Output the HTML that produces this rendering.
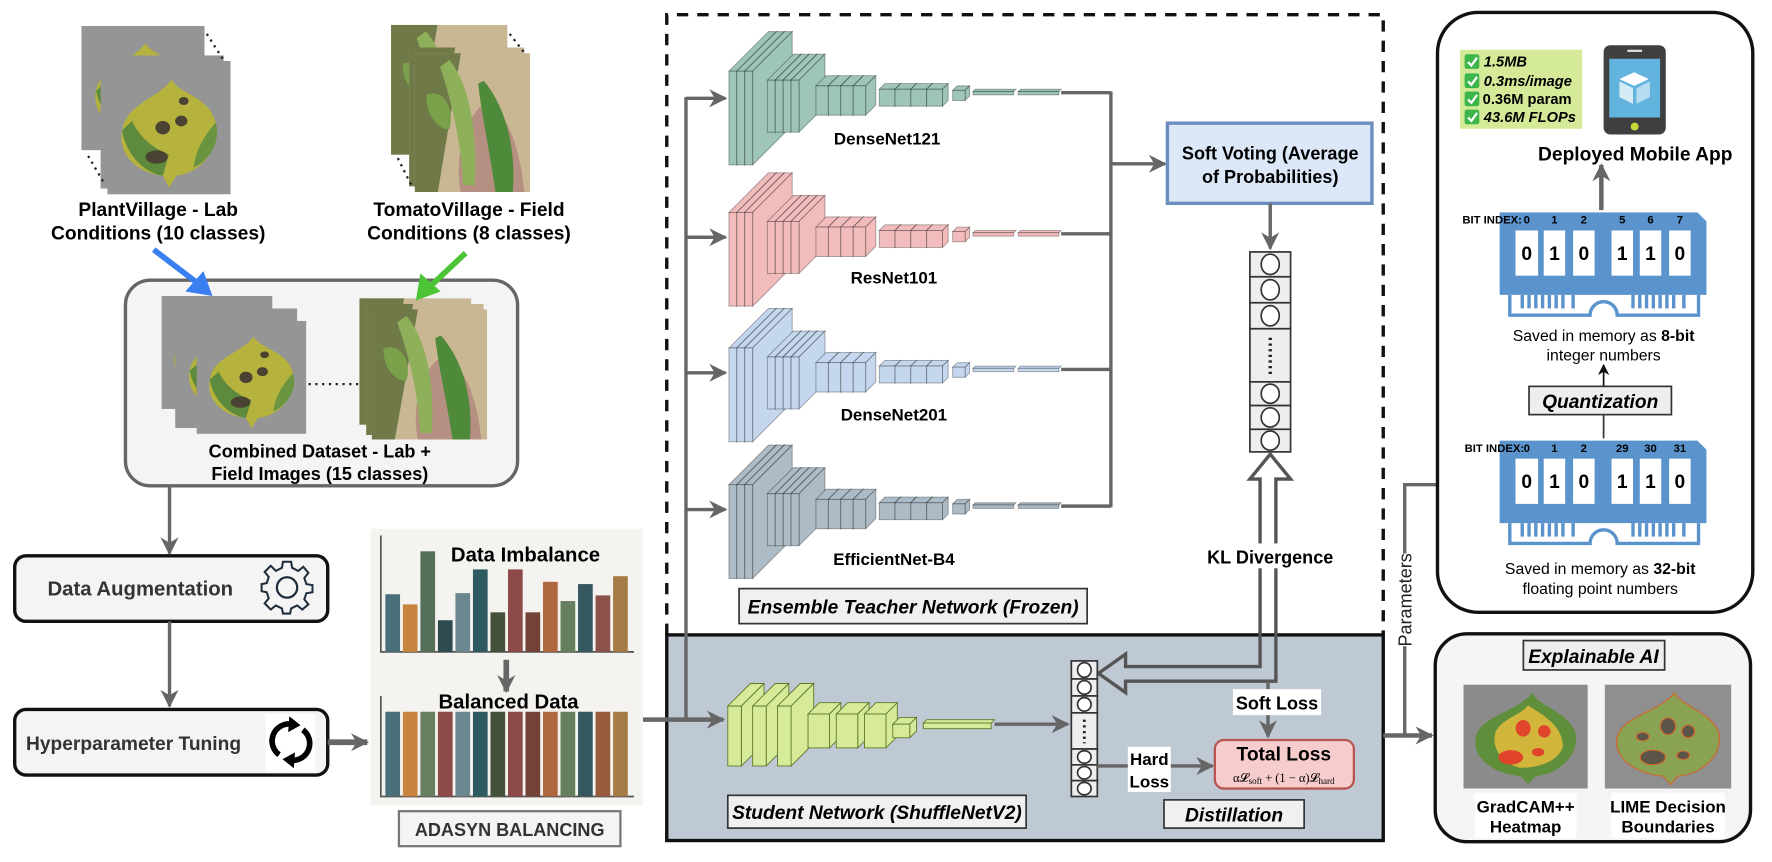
<!DOCTYPE html>
<html><head><meta charset="utf-8"><style>
html,body{margin:0;padding:0;background:#fff;}
svg{display:block;font-family:"Liberation Sans",Arial,sans-serif;}
.b{font-weight:bold;}
.bi{font-weight:bold;font-style:italic;}
</style></head><body>
<svg width="1772" height="862" viewBox="0 0 1568 763" preserveAspectRatio="none" xmlns="http://www.w3.org/2000/svg">
<defs>
<marker id="ah" viewBox="0 0 10 10" refX="9" refY="5" markerWidth="16" markerHeight="16" markerUnits="userSpaceOnUse" orient="auto"><path d="M0,0 L10,5 L0,10 L3,5z" fill="#666"/></marker>
<marker id="ahk" viewBox="0 0 10 10" refX="9" refY="5" markerWidth="10" markerHeight="10" markerUnits="userSpaceOnUse" orient="auto"><path d="M0,0 L10,5 L0,10 L3,5z" fill="#111"/></marker>
<symbol id="lab" viewBox="0 0 100 100" preserveAspectRatio="none">
<rect width="100" height="100" fill="#8e8e8e"/><rect width="100" height="100" fill="#a0a0a0" opacity=".4"/>
<path d="M52,14 C60,26 82,26 88,46 C92,66 76,84 56,86 L50,95 L45,86 C24,84 8,70 12,52 C15,32 42,28 52,14z" fill="#b5b23e"/>
<path d="M12,52 C15,70 30,84 45,86 L50,70 C35,65 25,55 20,45z" fill="#5d8a3c"/>
<path d="M88,46 C92,60 84,74 70,80 C72,65 80,55 88,46z" fill="#6b9440"/>
<ellipse cx="45" cy="50" rx="6" ry="5" fill="#4a4334"/><ellipse cx="60" cy="45" rx="5" ry="4" fill="#4a4334"/><ellipse cx="40" cy="72" rx="9" ry="5" fill="#4a4334"/><ellipse cx="62" cy="30" rx="4" ry="3" fill="#4a4334"/>
</symbol>
<symbol id="field" viewBox="0 0 100 100" preserveAspectRatio="none">
<rect width="100" height="100" fill="#c9b794"/>
<path d="M0,0 H40 L20,100 H0z" fill="#6f7a48"/>
<path d="M55,40 C70,30 90,55 95,100 H40 C35,80 40,55 55,40z" fill="#b58f82"/>
<path d="M30,5 C45,20 55,50 52,95 L42,95 C40,60 30,30 22,10z" fill="#8fb05a"/>
<path d="M60,20 C80,40 88,70 85,100 L70,100 C65,70 58,45 55,22z" fill="#4f8a3a"/>
<path d="M10,30 C25,25 35,40 30,55 C20,55 10,45 10,30z" fill="#7aa04a"/>
</symbol>
<symbol id="grad" viewBox="0 0 100 100" preserveAspectRatio="none">
<rect width="100" height="100" fill="#8b8b8b"/>
<path d="M55,8 C62,22 84,26 90,46 C94,66 78,86 58,88 L52,96 L46,88 C24,86 6,70 10,50 C14,30 44,26 55,8z" fill="#5f8f3a"/>
<path d="M52,20 C65,30 80,40 80,60 C75,75 60,80 45,80 C30,75 22,60 26,45 C32,32 45,30 52,20z" fill="#d2b63c"/>
<ellipse cx="48" cy="42" rx="6" ry="8" fill="#e0452c"/><ellipse cx="65" cy="45" rx="5" ry="6" fill="#e0452c"/><ellipse cx="38" cy="70" rx="10" ry="7" fill="#e0452c"/><ellipse cx="60" cy="65" rx="5" ry="4" fill="#e0452c"/>
</symbol>
<symbol id="lime" viewBox="0 0 100 100" preserveAspectRatio="none">
<rect width="100" height="100" fill="#8f8f8f"/>
<path d="M55,8 C62,22 84,26 90,46 C94,66 78,86 58,88 L52,96 L46,88 C24,86 6,70 10,50 C14,30 44,26 55,8z" fill="#8aa254" stroke="#d2662c" stroke-width="1"/>
<g fill="#5a5548" stroke="#d2662c" stroke-width="1"><ellipse cx="50" cy="40" rx="6" ry="8"/><ellipse cx="66" cy="45" rx="5" ry="6"/><ellipse cx="38" cy="70" rx="10" ry="7"/><ellipse cx="62" cy="68" rx="5" ry="4"/><ellipse cx="30" cy="50" rx="5" ry="4"/></g>
</symbol>
<g id="tnet" stroke="#0005" stroke-width="0.8" fill="currentColor">
<polygon points="645,63 680,28 687,28 652,63"/><polygon points="652,63 687,28 687,111 652,146"/><rect x="645" y="63" width="7" height="83"/>
<polygon points="652,63 687,28 694,28 659,63"/><polygon points="659,63 694,28 694,111 659,146"/><rect x="652" y="63" width="7" height="83"/>
<polygon points="659,63 694,28 701,28 666,63"/><polygon points="666,63 701,28 701,111 666,146"/><rect x="659" y="63" width="7" height="83"/>
<polygon points="679,71 702,48 709,48 686,71"/><polygon points="686,71 709,48 709,94 686,117"/><rect x="679" y="71" width="7" height="46"/>
<polygon points="686,71 709,48 716,48 693,71"/><polygon points="693,71 716,48 716,94 693,117"/><rect x="686" y="71" width="7" height="46"/>
<polygon points="693,71 716,48 723,48 700,71"/><polygon points="700,71 723,48 723,94 700,117"/><rect x="693" y="71" width="7" height="46"/>
<polygon points="700,71 723,48 730,48 707,71"/><polygon points="707,71 730,48 730,94 707,117"/><rect x="700" y="71" width="7" height="46"/>
<polygon points="722,76 731,67 742,67 733,76"/><polygon points="733,76 742,67 742,93 733,102"/><rect x="722" y="76" width="11" height="26"/>
<polygon points="733,76 742,67 753,67 744,76"/><polygon points="744,76 753,67 753,93 744,102"/><rect x="733" y="76" width="11" height="26"/>
<polygon points="744,76 753,67 764,67 755,76"/><polygon points="755,76 764,67 764,93 755,102"/><rect x="744" y="76" width="11" height="26"/>
<polygon points="755,76 764,67 775,67 766,76"/><polygon points="766,76 775,67 775,93 766,102"/><rect x="755" y="76" width="11" height="26"/>
<polygon points="778,79 783,74 797,74 792,79"/><polygon points="792,79 797,74 797,89 792,94"/><rect x="778" y="79" width="14" height="15"/>
<polygon points="792,79 797,74 811,74 806,79"/><polygon points="806,79 811,74 811,89 806,94"/><rect x="792" y="79" width="14" height="15"/>
<polygon points="806,79 811,74 825,74 820,79"/><polygon points="820,79 825,74 825,89 820,94"/><rect x="806" y="79" width="14" height="15"/>
<polygon points="820,79 825,74 839,74 834,79"/><polygon points="834,79 839,74 839,89 834,94"/><rect x="820" y="79" width="14" height="15"/>
<polygon points="843,80 847,76 858,76 854,80"/><polygon points="854,80 858,76 858,85 854,89"/><rect x="843" y="80" width="11" height="9"/>
<polygon points="861,81 863,79 899,79 897,81"/><rect x="861" y="81" width="36" height="3"/>
<polygon points="901,81 903,79 939,79 937,81"/><rect x="901" y="81" width="36" height="3"/>
<line x1="939" y1="82" x2="983" y2="82" stroke="#666" stroke-width="3"/>
</g>
</defs>

<!-- TOP LEFT datasets -->
<use href="#lab" x="72" y="23" width="109" height="110"/>
<use href="#lab" x="89" y="49" width="109" height="118"/>
<use href="#lab" x="95" y="54" width="109" height="118"/>
<path d="M183,30 L197,52 M78,138 L92,162" stroke="#222" stroke-width="2" stroke-dasharray="2,4"/>
<use href="#field" x="346" y="22" width="103" height="115"/>
<use href="#field" x="362" y="42" width="102" height="123"/>
<use href="#field" x="367" y="47" width="102" height="123"/>
<path d="M451,30 L465,48 M352,140 L364,164" stroke="#222" stroke-width="2" stroke-dasharray="2,4"/>
<text x="140" y="191" font-size="17" class="b" text-anchor="middle">PlantVillage - Lab</text>
<text x="140" y="212" font-size="17" class="b" text-anchor="middle">Conditions (10 classes)</text>
<text x="415" y="191" font-size="17" class="b" text-anchor="middle">TomatoVillage - Field</text>
<text x="415" y="212" font-size="17" class="b" text-anchor="middle">Conditions (8 classes)</text>

<!-- Combined -->
<rect x="111" y="248" width="347" height="182" rx="22" fill="#f4f4f4" stroke="#666" stroke-width="3"/>
<use href="#lab" x="143" y="262" width="98" height="100"/>
<use href="#lab" x="155" y="273" width="108" height="106"/>
<use href="#lab" x="174" y="284" width="97" height="100"/>
<use href="#field" x="318" y="264" width="99" height="112"/>
<use href="#field" x="324" y="269" width="104" height="116"/>
<use href="#field" x="329" y="274" width="102" height="115"/>
<line x1="273" y1="340" x2="318" y2="340" stroke="#222" stroke-width="2" stroke-dasharray="2,4"/>
<text x="283" y="405" font-size="16" class="b" text-anchor="middle">Combined Dataset  - Lab +</text>
<text x="283" y="425" font-size="16" class="b" text-anchor="middle">Field Images (15 classes)</text>
<line x1="136" y1="221" x2="178" y2="253" stroke="#3a7ff0" stroke-width="5"/>
<polygon points="188,262 164,258 180,240" fill="#3a7ff0"/>
<line x1="412" y1="224" x2="378" y2="256" stroke="#4cc435" stroke-width="5"/>
<polygon points="368,266 372,242 390,258" fill="#4cc435"/>

<!-- left pipeline -->
<line x1="150" y1="430" x2="150" y2="490" stroke="#666" stroke-width="3" marker-end="url(#ah)"/>
<rect x="13" y="492" width="277" height="58" rx="10" fill="#f4f4f4" stroke="#111" stroke-width="3"/>
<text x="42" y="527" font-size="18" class="b" fill="#333">Data Augmentation</text>
<g transform="translate(254,520)" fill="none" stroke="#1f2d3d" stroke-width="2">
<path d="M-4,-22 H4 L5,-16 L11,-13 L16,-17 L21,-11 L17,-6 L19,0 L25,1 V8 L19,9 L17,15 L21,20 L15,25 L10,21 L4,24 L3,29 H-4 L-5,24 L-11,21 L-16,25 L-22,19 L-18,14 L-20,8 L-25,7 V0 L-20,-1 L-18,-7 L-22,-12 L-16,-18 L-11,-13 L-5,-16z" transform="translate(0,-3) scale(0.9)"/>
<circle cx="0" cy="0" r="9"/></g>
<line x1="150" y1="550" x2="150" y2="625" stroke="#666" stroke-width="3" marker-end="url(#ah)"/>
<rect x="13" y="628" width="277" height="58" rx="10" fill="#f4f4f4" stroke="#111" stroke-width="3"/>
<text x="23" y="664" font-size="17" class="b" fill="#333">Hyperparameter Tuning</text>
<rect x="235" y="632" width="44" height="51" fill="#fff"/>
<g fill="none" stroke="#000" stroke-width="5"><path d="M247,668 A15,15 0 0 1 258,641"/><path d="M268,646 A15,15 0 0 1 258,673"/></g>
<polygon points="256,634 266,642 255,648" fill="#000"/><polygon points="260,680 250,672 261,666" fill="#000"/>
<line x1="290" y1="657" x2="325" y2="657" stroke="#666" stroke-width="5" marker-end="url(#ah)"/>

<!-- imbalance panel -->
<rect x="328" y="468" width="241" height="245" fill="#f5f3ef"/>
<path d="M337,474 V577 H561 M337,616 V705 H561" stroke="#555" stroke-width="1.5" fill="none"/>
<g>
<rect x="341" y="526" width="13" height="51" fill="#4a6f7a"/>
<rect x="356.5" y="535" width="13" height="42" fill="#c8843f"/>
<rect x="372" y="488" width="13" height="89" fill="#547058"/>
<rect x="387.5" y="549" width="13" height="28" fill="#2f4a50"/>
<rect x="403" y="525" width="13" height="52" fill="#6b8790"/>
<rect x="418.5" y="504" width="13" height="73" fill="#2e5a62"/>
<rect x="434" y="542" width="13" height="35" fill="#435238"/>
<rect x="449.5" y="504" width="13" height="73" fill="#8e4a48"/>
<rect x="465" y="542" width="13" height="35" fill="#744236"/>
<rect x="480.5" y="515" width="13" height="62" fill="#b0683f"/>
<rect x="496" y="532" width="13" height="45" fill="#667f5e"/>
<rect x="511.5" y="517" width="13" height="60" fill="#35585f"/>
<rect x="527" y="527" width="13" height="50" fill="#8c524a"/>
<rect x="542.5" y="510" width="13" height="67" fill="#a77b46"/>
</g>
<g>
<rect x="341" y="630" width="13" height="75" fill="#4a6f7a"/>
<rect x="356.5" y="630" width="13" height="75" fill="#c8843f"/>
<rect x="372" y="630" width="13" height="75" fill="#667f5e"/>
<rect x="387.5" y="630" width="13" height="75" fill="#8e4a48"/>
<rect x="403" y="630" width="13" height="75" fill="#6b8790"/>
<rect x="418.5" y="630" width="13" height="75" fill="#2e5a62"/>
<rect x="434" y="630" width="13" height="75" fill="#435238"/>
<rect x="449.5" y="630" width="13" height="75" fill="#8e4a48"/>
<rect x="465" y="630" width="13" height="75" fill="#744236"/>
<rect x="480.5" y="630" width="13" height="75" fill="#b0683f"/>
<rect x="496" y="630" width="13" height="75" fill="#667f5e"/>
<rect x="511.5" y="630" width="13" height="75" fill="#35585f"/>
<rect x="527" y="630" width="13" height="75" fill="#9a5a3e"/>
<rect x="542.5" y="630" width="13" height="75" fill="#a77b46"/>
</g>
<text x="465" y="497" font-size="18" class="b" text-anchor="middle">Data Imbalance</text>
<line x1="448" y1="584" x2="448" y2="612" stroke="#666" stroke-width="5" marker-end="url(#ah)"/>
<text x="450" y="627" font-size="18" class="b" text-anchor="middle">Balanced Data</text>
<rect x="353" y="718" width="196" height="31" fill="#f4f4f4" stroke="#777" stroke-width="2"/>
<text x="451" y="740" font-size="16" class="b" fill="#333" text-anchor="middle">ADASYN BALANCING</text>

<!-- student area bg -->
<rect x="590" y="562" width="634" height="182" fill="#bec9d4" stroke="#111" stroke-width="3"/>
<path d="M590,562 V13 H1224 V562" fill="none" stroke="#111" stroke-width="3" stroke-dasharray="10,8"/>

<line x1="569" y1="637" x2="640" y2="637" stroke="#666" stroke-width="4" marker-end="url(#ah)"/>
<line x1="607" y1="637" x2="607" y2="86" stroke="#666" stroke-width="3"/>
<g stroke="#666" stroke-width="3" marker-end="url(#ah)">
<line x1="607" y1="87" x2="642" y2="87"/><line x1="607" y1="210" x2="642" y2="210"/><line x1="607" y1="330" x2="642" y2="330"/><line x1="607" y1="451" x2="642" y2="451"/></g>

<use href="#tnet" style="color:#9ec5b8"/>
<use href="#tnet" transform="translate(0,125)" style="color:#f2bcbc"/>
<use href="#tnet" transform="translate(0,245)" style="color:#c4d7ee"/>
<use href="#tnet" transform="translate(0,366)" style="color:#adbbc6"/>
<text x="785" y="128" font-size="15" class="b" text-anchor="middle">DenseNet121</text>
<text x="791" y="251" font-size="15" class="b" text-anchor="middle">ResNet101</text>
<text x="791" y="372" font-size="15" class="b" text-anchor="middle">DenseNet201</text>
<text x="791" y="500" font-size="15" class="b" text-anchor="middle">EfficientNet-B4</text>
<line x1="983" y1="81" x2="983" y2="449" stroke="#666" stroke-width="3"/>
<line x1="983" y1="145" x2="1031" y2="145" stroke="#666" stroke-width="3" marker-end="url(#ah)"/>
<rect x="1033" y="109" width="181" height="71" fill="#dce8f8" stroke="#6c8ebf" stroke-width="3"/>
<text x="1124" y="141" font-size="16" class="b" text-anchor="middle">Soft Voting (Average</text>
<text x="1124" y="162" font-size="16" class="b" text-anchor="middle">of Probabilities)</text>
<line x1="1124" y1="180" x2="1124" y2="220" stroke="#666" stroke-width="3" marker-end="url(#ah)"/>
<g stroke="#333" stroke-width="1.5" fill="#eee">
<rect x="1106" y="223" width="36" height="22"/><rect x="1106" y="245" width="36" height="23"/><rect x="1106" y="268" width="36" height="23"/>
<rect x="1106" y="291" width="36" height="47"/>
<rect x="1106" y="338" width="36" height="21"/><rect x="1106" y="359" width="36" height="21"/><rect x="1106" y="380" width="36" height="20"/>
<g fill="#fff"><ellipse cx="1124" cy="234" rx="8" ry="9"/><ellipse cx="1124" cy="256.5" rx="8" ry="9"/><ellipse cx="1124" cy="279.5" rx="8" ry="9"/><ellipse cx="1124" cy="348.5" rx="8" ry="8.5"/><ellipse cx="1124" cy="369.5" rx="8" ry="8.5"/><ellipse cx="1124" cy="390" rx="8" ry="8.5"/></g></g>
<line x1="1124" y1="299" x2="1124" y2="332" stroke="#222" stroke-width="3" stroke-dasharray="2,3"/>
<rect x="654" y="521" width="308" height="31" fill="#f0f0f0" stroke="#333" stroke-width="1.5"/>
<text x="808" y="543" font-size="17" class="bi" text-anchor="middle">Ensemble Teacher Network (Frozen)</text>

<path d="M1124,402 L1142,424 L1129,424 L1129,603 L996,603 L996,613 L972,596 L996,579 L996,590 L1115,590 L1115,424 L1106,424 Z" fill="none" stroke="#555" stroke-width="3" stroke-linejoin="miter"/>
<rect x="1058" y="481" width="132" height="22" fill="#fff"/>
<text x="1124" y="499" font-size="16" class="b" text-anchor="middle">KL Divergence</text>

<g stroke="#5f7a2a" stroke-width="0.8" fill="#d6ea9a">
<polygon points="644,625 664,605 676,605 656,625"/><polygon points="656,625 676,605 676,658 656,678"/><rect x="644" y="625" width="12" height="53"/>
<polygon points="666,625 686,605 698,605 678,625"/><polygon points="678,625 698,605 698,658 678,678"/><rect x="666" y="625" width="12" height="53"/>
<polygon points="688,625 708,605 720,605 700,625"/><polygon points="700,625 720,605 720,658 700,678"/><rect x="688" y="625" width="12" height="53"/>
<polygon points="715,632 725,622 744,622 734,632"/><polygon points="734,632 744,622 744,652 734,662"/><rect x="715" y="632" width="19" height="30"/>
<polygon points="740,632 750,622 769,622 759,632"/><polygon points="759,632 769,622 769,652 759,662"/><rect x="740" y="632" width="19" height="30"/>
<polygon points="765,632 775,622 794,622 784,632"/><polygon points="784,632 794,622 794,652 784,662"/><rect x="765" y="632" width="19" height="30"/>
<polygon points="790,641 796,635 811,635 805,641"/><polygon points="805,641 811,635 811,647 805,653"/><rect x="790" y="641" width="15" height="12"/>
<polygon points="817,640 820,637 880,637 877,640"/><rect x="817" y="640" width="60" height="5"/>
</g>
<line x1="880" y1="641" x2="945" y2="641" stroke="#666" stroke-width="3" marker-end="url(#ah)"/>
<g stroke="#333" stroke-width="1.5" fill="#eee">
<rect x="948" y="585" width="23" height="16"/><rect x="948" y="601" width="23" height="15"/><rect x="948" y="616" width="23" height="15"/>
<rect x="948" y="631" width="23" height="32"/>
<rect x="948" y="663" width="23" height="14"/><rect x="948" y="677" width="23" height="14"/><rect x="948" y="691" width="23" height="14"/>
<g fill="#fff"><ellipse cx="959.5" cy="593" rx="6" ry="6.5"/><ellipse cx="959.5" cy="608.5" rx="6" ry="6"/><ellipse cx="959.5" cy="623.5" rx="6" ry="6"/><ellipse cx="959.5" cy="670" rx="6" ry="5.5"/><ellipse cx="959.5" cy="684" rx="6" ry="5.5"/><ellipse cx="959.5" cy="698" rx="6" ry="5.5"/></g></g>
<line x1="959.5" y1="637" x2="959.5" y2="658" stroke="#222" stroke-width="2.5" stroke-dasharray="2,3"/>
<rect x="644" y="704" width="264" height="29" fill="#f0f0f0" stroke="#333" stroke-width="1.5"/>
<text x="776" y="725" font-size="17" class="bi" text-anchor="middle">Student Network (ShuffleNetV2)</text>

<line x1="1122" y1="603" x2="1122" y2="652" stroke="#666" stroke-width="3" marker-end="url(#ah)"/>
<rect x="1091" y="610" width="78" height="23" fill="#fff"/>
<text x="1130" y="628" font-size="16" class="b" text-anchor="middle">Soft Loss</text>
<line x1="971" y1="678" x2="1073" y2="678" stroke="#666" stroke-width="3" marker-end="url(#ah)"/>
<rect x="998" y="661" width="38" height="40" fill="#fff"/>
<text x="1017" y="677" font-size="15" class="b" text-anchor="middle">Hard</text>
<text x="1017" y="697" font-size="15" class="b" text-anchor="middle">Loss</text>
<rect x="1075" y="655" width="123" height="43" rx="8" fill="#f6cdcc" stroke="#b85450" stroke-width="2"/>
<text x="1136" y="673" font-size="17" class="b" text-anchor="middle">Total Loss</text>
<text x="1136" y="692" font-size="11" font-family="Liberation Serif,serif" text-anchor="middle">α𝓛<tspan font-size="8" dy="2">soft</tspan><tspan dy="-2"> + (1 − α)𝓛</tspan><tspan font-size="8" dy="2">hard</tspan></text>
<rect x="1030" y="708" width="124" height="25" fill="#f0f0f0" stroke="#333" stroke-width="1.5"/>
<text x="1092" y="727" font-size="17" class="bi" text-anchor="middle">Distillation</text>

<line x1="1224" y1="651" x2="1267" y2="651" stroke="#666" stroke-width="4" marker-end="url(#ah)"/>
<polyline points="1243,651 1243,429 1322,429" fill="none" stroke="#666" stroke-width="3" marker-end="url(#ah)"/>
<rect x="1234" y="490" width="18" height="82" fill="#fff"/>
<text transform="translate(1249,531) rotate(-90)" font-size="16" text-anchor="middle" fill="#222">Parameters</text>

<rect x="1272" y="11" width="279" height="531" rx="36" fill="#fff" stroke="#111" stroke-width="3"/>
<rect x="1292" y="44" width="108" height="70" fill="#d4ea98"/>
<g font-size="13" class="bi">
<g fill="#3cb54a"><rect x="1296" y="48" width="13" height="13" rx="2"/><rect x="1296" y="65" width="13" height="13" rx="2"/><rect x="1296" y="81" width="13" height="13" rx="2"/><rect x="1296" y="97" width="13" height="13" rx="2"/></g>
<g fill="none" stroke="#fff" stroke-width="2"><path d="M1299,55 l3,3 l5,-7"/><path d="M1299,72 l3,3 l5,-7"/><path d="M1299,88 l3,3 l5,-7"/><path d="M1299,104 l3,3 l5,-7"/></g>
<text x="1313" y="59">1.5MB</text>
<text x="1313" y="76">0.3ms/image</text>
<text x="1312" y="92" font-style="normal">0.36M param</text>
<text x="1313" y="108">43.6M FLOPs</text>
</g>
<rect x="1419" y="40" width="55" height="79" rx="6" fill="#3f3f3f"/>
<rect x="1424" y="52" width="45" height="52" fill="#63b3df"/>
<rect x="1440" y="44" width="13" height="2" fill="#ddd"/>
<circle cx="1446.5" cy="112" r="3.5" fill="#c8da3a"/>
<polygon points="1446,64 1459,70 1446,76 1433,70" fill="#fff"/>
<polygon points="1433,72 1445,78 1445,92 1433,86" fill="#d5ecf7"/>
<polygon points="1448,78 1460,72 1460,86 1448,92" fill="#b4dbef"/>
<text x="1447" y="142" font-size="17" class="b" text-anchor="middle">Deployed Mobile App</text>
<line x1="1417" y1="186" x2="1417" y2="146" stroke="#666" stroke-width="4" marker-end="url(#ah)"/>

<g>
<path d="M1327,188 H1502 L1510,196 V261 H1327 Z" fill="#5b93cc"/>
<path d="M1336,261 V279 H1407 A12,12 0 0 1 1431,279 H1503 V261" fill="none" stroke="#5b93cc" stroke-width="3"/>
<g stroke="#5b93cc" stroke-width="3"><path d="M1347,261v12M1353,261v12M1359,261v12M1365,261v12M1371,261v12M1377,261v12M1383,261v12M1392,261v12M1445,261v12M1451,261v12M1457,261v12M1463,261v12M1469,261v12M1475,261v12M1481,261v12M1490,261v12"/></g>
<g fill="#fff"><rect x="1341" y="204" width="20" height="40"/><rect x="1366" y="204" width="19" height="40"/><rect x="1392" y="204" width="19" height="40"/><rect x="1426" y="204" width="19" height="40"/><rect x="1451" y="204" width="19" height="40"/><rect x="1477" y="204" width="19" height="40"/></g>
<g font-size="17" class="b" text-anchor="middle"><text x="1351" y="230">0</text><text x="1375.5" y="230">1</text><text x="1401.5" y="230">0</text><text x="1435.5" y="230">1</text><text x="1460.5" y="230">1</text><text x="1486.5" y="230">0</text></g>
<text x="1294" y="198" font-size="10" class="b">BIT INDEX:</text>
<g font-size="10" class="b" text-anchor="middle"><text x="1351" y="198">0</text><text x="1375.5" y="198">1</text><text x="1401.5" y="198">2</text><text x="1435.5" y="198">5</text><text x="1460.5" y="198">6</text><text x="1486.5" y="198">7</text></g>
</g>
<text x="1419" y="302" font-size="14" text-anchor="middle">Saved in memory as <tspan class="b">8-bit</tspan></text>
<text x="1419" y="319" font-size="14" text-anchor="middle">integer numbers</text>
<line x1="1419" y1="388" x2="1419" y2="367" stroke="#333" stroke-width="1.5"/>
<line x1="1419" y1="342" x2="1419" y2="323" stroke="#111" stroke-width="1.5" marker-end="url(#ahk)"/>
<rect x="1353" y="342" width="126" height="25" fill="#eee" stroke="#333" stroke-width="1.5"/>
<text x="1416" y="361" font-size="17" class="bi" text-anchor="middle">Quantization</text>

<g>
<path d="M1327,390 H1502 L1510,398 V463 H1327 Z" fill="#5b93cc"/>
<path d="M1336,463 V481 H1407 A12,12 0 0 1 1431,481 H1503 V463" fill="none" stroke="#5b93cc" stroke-width="3"/>
<g stroke="#5b93cc" stroke-width="3"><path d="M1347,463v12M1353,463v12M1359,463v12M1365,463v12M1371,463v12M1377,463v12M1383,463v12M1392,463v12M1445,463v12M1451,463v12M1457,463v12M1463,463v12M1469,463v12M1475,463v12M1481,463v12M1490,463v12"/></g>
<g fill="#fff"><rect x="1341" y="406" width="20" height="40"/><rect x="1366" y="406" width="19" height="40"/><rect x="1392" y="406" width="19" height="40"/><rect x="1426" y="406" width="19" height="40"/><rect x="1451" y="406" width="19" height="40"/><rect x="1477" y="406" width="19" height="40"/></g>
<g font-size="17" class="b" text-anchor="middle"><text x="1351" y="432">0</text><text x="1375.5" y="432">1</text><text x="1401.5" y="432">0</text><text x="1435.5" y="432">1</text><text x="1460.5" y="432">1</text><text x="1486.5" y="432">0</text></g>
<text x="1296" y="400" font-size="10" class="b">BIT INDEX:</text>
<g font-size="10" class="b" text-anchor="middle"><text x="1351" y="400">0</text><text x="1375.5" y="400">1</text><text x="1401.5" y="400">2</text><text x="1435.5" y="400">29</text><text x="1460.5" y="400">30</text><text x="1486.5" y="400">31</text></g>
</g>
<text x="1416" y="508" font-size="14" text-anchor="middle">Saved in memory as <tspan class="b">32-bit</tspan></text>
<text x="1416" y="526" font-size="14" text-anchor="middle">floating point numbers</text>

<rect x="1270" y="561" width="279" height="184" rx="28" fill="#f5f5f5" stroke="#111" stroke-width="3"/>
<rect x="1348" y="567" width="125" height="26" fill="#eee" stroke="#333" stroke-width="1.5"/>
<text x="1410" y="587" font-size="17" class="bi" text-anchor="middle">Explainable AI</text>
<use href="#grad" x="1295" y="606" width="110" height="92"/>
<use href="#lime" x="1420" y="606" width="112" height="92"/>
<rect x="1305" y="702" width="90" height="40" fill="#fff"/><rect x="1426" y="702" width="100" height="40" fill="#fff"/>
<text x="1350" y="719" font-size="15" class="b" text-anchor="middle">GradCAM++</text>
<text x="1350" y="737" font-size="15" class="b" text-anchor="middle">Heatmap</text>
<text x="1476" y="719" font-size="15" class="b" text-anchor="middle">LIME Decision</text>
<text x="1476" y="737" font-size="15" class="b" text-anchor="middle">Boundaries</text>
</svg>
</body></html>
